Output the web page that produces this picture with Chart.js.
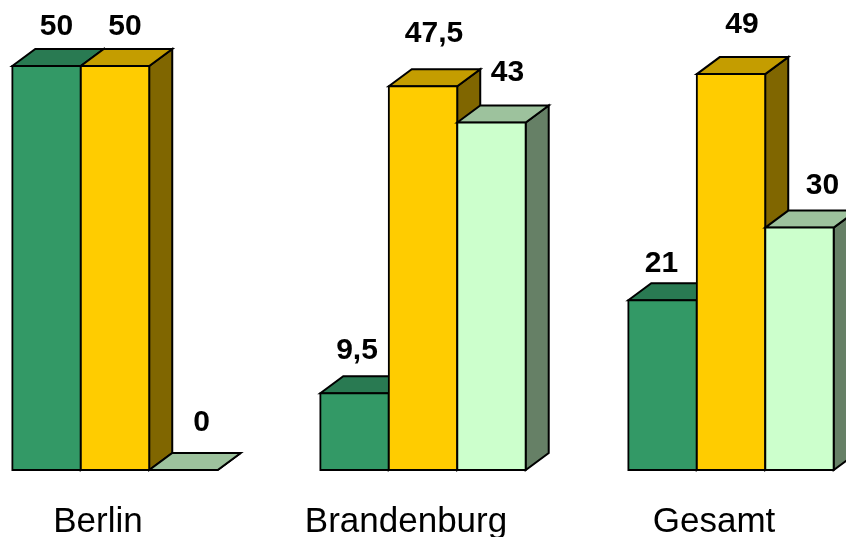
<!DOCTYPE html>
<html>
<head>
<meta charset="utf-8">
<style>
html,body{margin:0;padding:0;background:#fff;overflow:hidden;width:846px;height:537px}
#wrap{position:absolute;left:-39.5px;top:0;width:924px;height:537px}
</style>
<script src="https://cdn.jsdelivr.net/npm/chart.js@4"></script>
</head>
<body>
<div id="wrap"><canvas id="c"></canvas></div>
<script>
const categories = ['Berlin', 'Brandenburg', 'Gesamt'];
const seriesA = [50, 9.5, 21];
const seriesB = [50, 47.5, 49];
const seriesC = [0, 43, 30];
const labelsA = ['50', '9,5', '21'];
const labelsB = ['50', '47,5', '49'];
const labelsC = ['0', '43', '30'];
const offsetsA = [[10, -39], [2.5, -43], [-1, -37]];
const offsetsB = [[10, -39], [11, -52], [11, -49]];
const offsetsC = [[18, -47], [16, -50], [23, -42]];
const frontColors = ['#339966', '#FFCC00', '#CCFFCC'];
const topColors = ['#297A52', '#C49D00', '#9DC29D'];
const sideColors = ['#1F5C3D', '#806600', '#668066'];
const DX = 23, DY = -17, LINE = 2;

const faces3d = {
  id: 'faces3d',
  beforeDatasetsDraw(chart) {
    const ctx = chart.ctx;
    chart.data.datasets.forEach((ds, i) => {
      chart.getDatasetMeta(i).data.forEach(bar => {
        const l = bar.x - bar.width / 2, r = bar.x + bar.width / 2, t = bar.y, b = bar.base;
        ctx.save();
        ctx.strokeStyle = '#000';
        ctx.lineWidth = LINE;
        ctx.lineJoin = 'miter';
        ctx.fillStyle = sideColors[i];
        ctx.beginPath();
        ctx.moveTo(r, t); ctx.lineTo(r + DX, t + DY); ctx.lineTo(r + DX, b + DY); ctx.lineTo(r, b);
        ctx.closePath(); ctx.fill(); ctx.stroke();
        ctx.fillStyle = topColors[i];
        ctx.beginPath();
        ctx.moveTo(l, t); ctx.lineTo(l + DX, t + DY); ctx.lineTo(r + DX, t + DY); ctx.lineTo(r, t);
        ctx.closePath(); ctx.fill(); ctx.stroke();
        ctx.restore();
        bar.draw(ctx);
      });
    });
    return false;
  }
};

const valueLabels = {
  id: 'valueLabels',
  afterDraw(chart) {
    const ctx = chart.ctx;
    ctx.save();
    ctx.fillStyle = '#000';
    ctx.font = 'bold 30px "Liberation Sans", Arial, sans-serif';
    ctx.textAlign = 'center';
    ctx.textBaseline = 'middle';
    chart.data.datasets.forEach((ds, i) => {
      chart.getDatasetMeta(i).data.forEach((bar, k) => {
        const o = ds.labelOffsets[k];
        ctx.fillText(ds.valueLabels[k], bar.x + o[0], bar.y + o[1]);
      });
    });
    ctx.restore();
  }
};

function makeSet(name, values, texts, offsets, idx) {
  return {
    label: name, data: values, valueLabels: texts, labelOffsets: offsets,
    backgroundColor: frontColors[idx], borderColor: '#000', borderWidth: LINE,
    borderSkipped: false, inflateAmount: 1
  };
}

new Chart(document.getElementById('c'), {
  type: 'bar',
  data: {
    labels: categories,
    datasets: [
      makeSet('A', seriesA, labelsA, offsetsA, 0),
      makeSet('B', seriesB, labelsB, offsetsB, 1),
      makeSet('C', seriesC, labelsC, offsetsC, 2)
    ]
  },
  options: {
    responsive: true,
    maintainAspectRatio: false,
    animation: false,
    layout: { padding: { top: 66, bottom: 0, left: 0, right: 0 } },
    datasets: { bar: { categoryPercentage: 0.667, barPercentage: 1 } },
    plugins: { legend: { display: false }, tooltip: { enabled: false } },
    scales: {
      y: { display: false, min: 0, max: 50 },
      x: {
        grid: { display: false, drawTicks: false },
        border: { display: false },
        afterFit: s => { s.height = 67; },
        ticks: {
          color: '#000', padding: 31, labelOffset: -17, maxRotation: 0, autoSkip: false,
          font: { family: '"Liberation Sans", Arial, sans-serif', size: 35 }
        }
      }
    }
  },
  plugins: [faces3d, valueLabels]
});
</script>
</body>
</html>
